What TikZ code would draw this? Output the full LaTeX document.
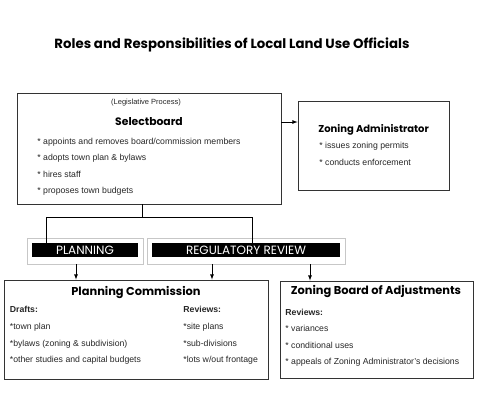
\documentclass[tikz,border=0pt]{standalone}
\usepackage{fontspec}
\setmainfont{Liberation Sans}
\newfontfamily\headfont{Poppins}
\usetikzlibrary{arrows}
\tikzstyle{arrow}=[->,>=latex]
\tikzstyle{box}=[draw=black!80, line width=0.8pt, rectangle, inner sep=0pt]
\tikzstyle{greybox}=[draw=black!22, line width=0.7pt, rectangle, inner sep=0pt]
\tikzstyle{bar}=[fill=black, rectangle, inner sep=0pt, text=white, font=\headfont\fontsize{12}{12}\selectfont]
\tikzstyle{item}=[anchor=base west, inner sep=0pt, text=black!85, font=\fontsize{8.7}{9}\selectfont]
\tikzstyle{subhead}=[item, font=\bfseries\fontsize{8.7}{9}\selectfont]
\tikzstyle{heading}=[anchor=base, inner sep=0pt, font=\headfont\bfseries\fontsize{11.4}{11.4}\selectfont]
\tikzset{every picture/.style={
    line width=0.8pt
  }
}

\begin{document}
\begin{tikzpicture}[x=1pt, y=-1pt]
      \useasboundingbox (0,0) rectangle (480,416);
      \node[heading, font=\headfont\bfseries\fontsize{13.3}{13.3}\selectfont] at (232,48) (title) {Roles and Responsibilities of Local Land Use Officials};

      % top row
      \node[box, minimum width=264pt, minimum height=111pt] at (149,148.5) (sel) {};
      \node[item, anchor=base, font=\fontsize{7.5}{8}\selectfont] at (146,104) (legis) {(Legislative Process)};
      \node[heading, font=\headfont\bfseries\fontsize{10.8}{10.8}\selectfont] at (149,125.7) (selname) {Selectboard};
      \node[item] at (37,144) (sel1) {* appoints and removes board/commission members};
      \node[item] at (37,160.5) (sel2) {* adopts town plan \& bylaws};
      \node[item] at (37,177) (sel3) {* hires staff};
      \node[item] at (37,193.5) (sel4) {* proposes town budgets};

      \node[box, minimum width=151pt, minimum height=89pt] at (373.5,145.5) (za) {};
      \node[heading, anchor=base west, font=\headfont\bfseries\fontsize{10}{10}\selectfont] at (318,132) (zaname) {Zoning Administrator};
      \node[item] at (319,148.5) (za1) {* issues zoning permits};
      \node[item] at (319,165) (za2) {* conducts enforcement};

      \draw[arrow] ([yshift=26.5pt]sel.east) -- ([yshift=26.5pt]sel.east -| za.west);

      % middle row
      \node[greybox, minimum width=116pt, minimum height=26pt] at (85,251) (planout) {};
      \node[bar, minimum width=106pt, minimum height=14pt] at (85,250) (planbar) {PLANNING};
      \node[greybox, minimum width=198pt, minimum height=26pt] at (246,251) (regout) {};
      \node[bar, minimum width=188pt, minimum height=14pt] at (246,250) (regbar) {REGULATORY REVIEW};

      \coordinate (split) at (142,217);
      \draw (sel.south -| split) -- (split);
      \draw (split) -| ([xshift=-39pt]planbar.north);
      \draw (split) -| ([xshift=6pt]regbar.north);

      % bottom row
      \node[box, minimum width=264pt, minimum height=99pt] at (136,329.5) (pc) {};
      \node[heading] at (136,295) (pcname) {Planning Commission};
      \node[subhead] at (9.5,312.5) (draft) {Drafts:};
      \node[item] at (9.5,329.2) (draft1) {*town plan};
      \node[item] at (9.5,346) (draft2) {*bylaws (zoning \& subdivision)};
      \node[item] at (9.5,362.7) (draft3) {*other studies and capital budgets};
      \node[subhead] at (183,312.5) (rev) {Reviews:};
      \node[item] at (183,329.2) (rev1) {*site plans};
      \node[item] at (183,346) (rev2) {*sub-divisions};
      \node[item] at (183,362.7) (rev3) {*lots w/out frontage};

      \node[box, minimum width=193pt, minimum height=97pt] at (376.5,329.5) (zba) {};
      \node[heading] at (376,294) (zbaname) {Zoning Board of Adjustments};
      \node[subhead] at (285,315) (zbarev) {Reviews:};
      \node[item] at (285,331.5) (zba1) {* variances};
      \node[item] at (285,348) (zba2) {* conditional uses};
      \node[item] at (285,364.5) (zba3) {* appeals of Zoning Administrator's decisions};

      \draw[arrow] ([xshift=-9pt]planout.south) -- ([xshift=-9pt]planout.south |- pc.north);
      \draw[arrow] ([xshift=-34pt]regout.south) -- ([xshift=-34pt]regout.south |- pc.north);
      \draw[arrow] ([xshift=64pt]regout.south) -- ([xshift=64pt]regout.south |- zba.north);
    \end{tikzpicture}
\end{document}
